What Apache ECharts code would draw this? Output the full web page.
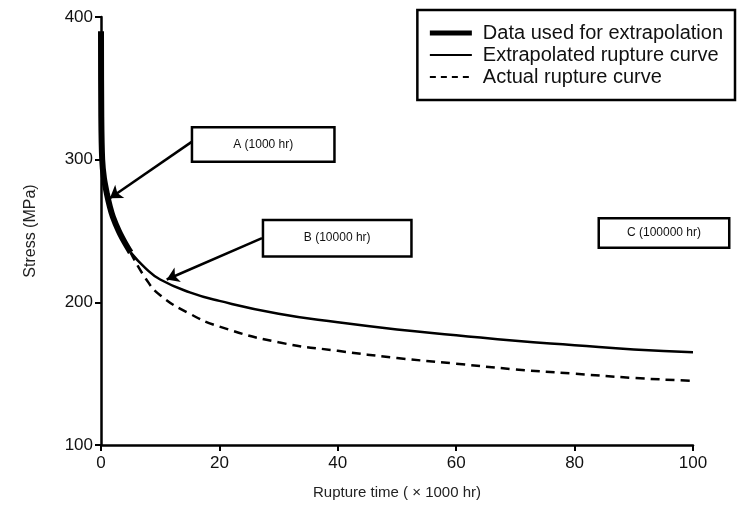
<!DOCTYPE html>
<html>
<head>
<meta charset="utf-8">
<script src="https://cdn.jsdelivr.net/npm/echarts@6/dist/echarts.min.js"></script>
<style>
  html, body { margin: 0; padding: 0; background: #fff; }
  #main { width: 738px; height: 517px; }
</style>
</head>
<body>
<div id="main"></div>
<script>
// Données (temps en x 1000 h, contrainte en MPa)
var dataTime = [0, 0.05, 0.2, 0.5, 1, 1.5, 2, 3, 4, 5];
var dataStress = [390, 330, 300, 287, 276, 267, 260, 250, 242, 235];

var extraTime = [5, 7.5, 10, 15, 20, 30, 40, 50, 60, 70, 80, 90, 100];
var extraStress = [235, 224, 216, 207, 201, 192, 186, 181, 177, 173, 170, 167, 165];

var actualTime = [5, 7.5, 10, 15, 20, 30, 40, 50, 60, 70, 80, 90, 100];
var actualStress = [235, 217, 205, 192, 183, 172, 166, 161, 157, 153, 150, 147, 145];

// Repères A, B, C : position de la boîte, départ et pointe de la flèche
var noteLabels = ['A (1000 hr)', 'B (10000 hr)', 'C (100000 hr)'];
var noteBox = [[27.4, 310.6], [39.9, 245], [95.1, 248.6]];
var noteSize = [[140, 32], [146, 34], [128, 27]];
var noteFrom = [[15.5, 313], [27.2, 245], [100.2, 238]];
var noteTo = [[1.5, 273], [11.1, 216], [100.2, 172]];

function pairs(xs, ys) {
	var out = [];
	for (var i = 0; i < xs.length; i++) {
		out.push([xs[i], ys[i]]);
	}
	return out;
}

var arrows = [];
var boxes = [];
for (var i = 0; i < noteLabels.length; i++) {
	arrows.push([{ coord: noteFrom[i] }, { coord: noteTo[i] }]);
	// la boîte est le cadre du label lui-même (bordure régulière)
	boxes.push({
		coord: noteBox[i],
		value: noteLabels[i],
		label: { width: noteSize[i][0], height: noteSize[i][1], lineHeight: noteSize[i][1] }
	});
}

var font = 'Liberation Sans';
var myChart = echarts.init(document.getElementById('main'));

var option = {
	animation: false,
	backgroundColor: '#fff',
	textStyle: { fontFamily: font },
	grid: { left: 101, right: 45, top: 17, bottom: 72 },
	legend: {
		orient: 'vertical',
		right: 3,
		top: 10,
		padding: [13, 12, 13, 10],
		borderColor: '#000',
		borderWidth: 2.5,
		backgroundColor: '#fff',
		itemWidth: 42,
		itemHeight: 14,
		itemGap: 2,
		// cache le point du symbole, on ne garde que le trait
		itemStyle: { color: 'rgba(0,0,0,0)', borderWidth: 0 },
		textStyle: { fontFamily: font, fontSize: 20, lineHeight: 20, color: '#111', padding: [0, 0, 0, 6] },
		data: [
			{ name: 'Data used for extrapolation', lineStyle: { width: 5, color: '#000' } },
			{ name: 'Extrapolated rupture curve', lineStyle: { width: 2, color: '#000' } },
			{ name: 'Actual rupture curve', lineStyle: { width: 2, color: '#000', type: [6, 5] } }
		]
	},
	xAxis: {
		type: 'value',
		min: 0,
		max: 100,
		interval: 20,
		name: 'Rupture time ( \u00d7 1000 hr)',
		nameLocation: 'middle',
		nameGap: 40,
		nameTextStyle: { fontFamily: font, fontSize: 15, color: '#222' },
		axisLine: { lineStyle: { color: '#000', width: 2.5 } },
		axisTick: { show: true, length: 6, lineStyle: { color: '#000', width: 2 } },
		axisLabel: { fontFamily: font, fontSize: 17, color: '#111', margin: 10 },
		splitLine: { show: false }
	},
	yAxis: {
		type: 'value',
		min: 100,
		max: 400,
		interval: 100,
		name: 'Stress (MPa)',
		nameLocation: 'middle',
		nameGap: 62,
		nameTextStyle: { fontFamily: font, fontSize: 16, color: '#222' },
		axisLine: { show: true, lineStyle: { color: '#000', width: 2.5 } },
		axisTick: { show: true, length: 6, lineStyle: { color: '#000', width: 2 } },
		axisLabel: { fontFamily: font, fontSize: 17, color: '#111', margin: 8 },
		splitLine: { show: false }
	},
	series: [{
		name: 'Data used for extrapolation',
		type: 'line',
		smooth: 0.3,
		showSymbol: false,
		symbol: 'none',
		data: pairs(dataTime, dataStress),
		color: '#000',
		lineStyle: { color: '#000', width: 6 },
		z: 5
	}, {
		name: 'Extrapolated rupture curve',
		type: 'line',
		smooth: true,
		showSymbol: false,
		symbol: 'none',
		data: pairs(extraTime, extraStress),
		color: '#000',
		lineStyle: { color: '#000', width: 2.5 },
		markLine: {
			silent: true,
			symbol: ['none', 'arrow'],
			symbolSize: 12,
			label: { show: false },
			lineStyle: { color: '#000', width: 2.5, type: 'solid' },
			data: arrows
		},
		markPoint: {
			silent: true,
			symbol: 'rect',
			symbolSize: 1,
			itemStyle: { color: 'rgba(0,0,0,0)' },
			label: {
				show: true,
				position: 'inside',
				formatter: '{c}',
				fontFamily: font,
				fontSize: 12,
				color: '#111',
				align: 'center',
				verticalAlign: 'middle',
				backgroundColor: '#fff',
				borderColor: '#000',
				borderWidth: 2.5,
				padding: 0
			},
			data: boxes
		}
	}, {
		name: 'Actual rupture curve',
		type: 'line',
		smooth: true,
		showSymbol: false,
		symbol: 'none',
		data: pairs(actualTime, actualStress),
		color: '#000',
		lineStyle: { color: '#000', width: 2.5, type: [9, 6] }
	}]
};

myChart.setOption(option);
</script>
</body>
</html>
